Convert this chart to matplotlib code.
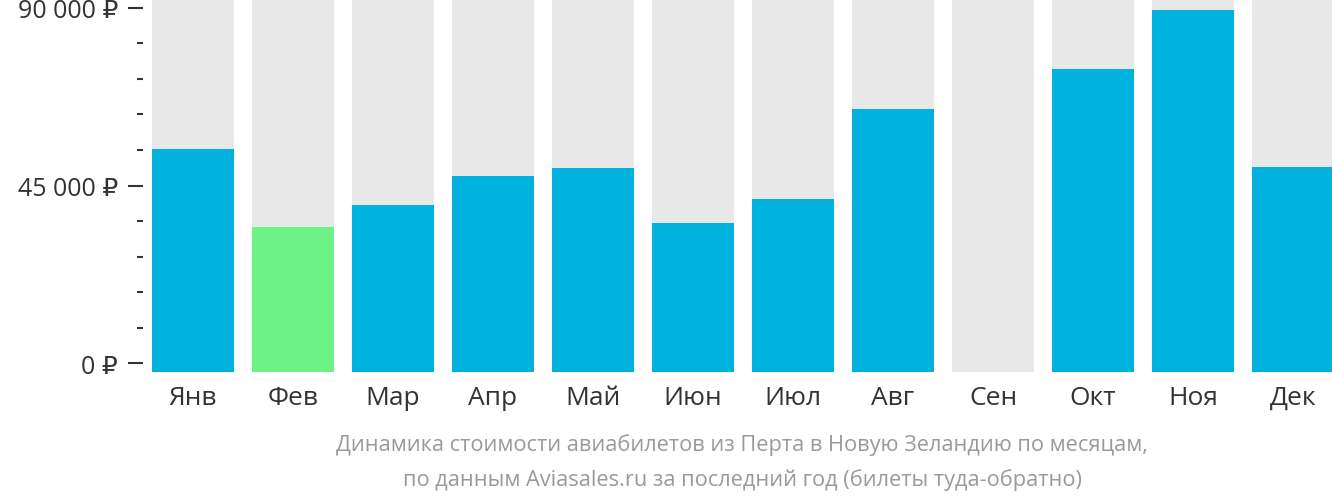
import numpy as np
from matplotlib import pyplot as plt
from matplotlib.ticker import MultipleLocator, FuncFormatter

plt.rcParams['font.family'] = ['Open Sans', 'DejaVu Sans']

# Monthly prices, rubles (0 = no data)
months = ['Янв', 'Фев', 'Мар', 'Апр', 'Май', 'Июн',
          'Июл', 'Авг', 'Сен', 'Окт', 'Ноя', 'Дек']
prices = [54250, 34520, 40090, 47420, 49440, 35530,
          41600, 64360, 0, 74480, 89400, 49700]
cheapest = 'Фев'

y_bottom = -2150
y_top = 92180

fig = plt.figure(figsize=(13.32, 5.02), dpi=100)
ax = fig.add_axes([143 / 1332, 129 / 502, 1189 / 1332, 373 / 502])

x = np.arange(len(months))
colors = ['#6cf287' if m == cheapest else '#00b1dd' for m in months]
p = np.array(prices)
heights = np.where(p > 0, p - y_bottom, 0)

# gray background columns, then the price bars on top
ax.bar(x, y_top - y_bottom, bottom=y_bottom, width=0.82, color='#e8e8e8')
ax.bar(x, heights, bottom=y_bottom, width=0.82, color=colors)

ax.set_xlim(-0.5, 11.39)
ax.set_ylim(y_bottom, y_top)

for s in ax.spines.values():
    s.set_visible(False)

ax.yaxis.set_major_locator(MultipleLocator(45000))
ax.yaxis.set_minor_locator(MultipleLocator(9000))
ax.yaxis.set_major_formatter(FuncFormatter(
    lambda v, pos: ('%d' % v if v < 1000 else '{:,}'.format(int(v)).replace(',', ' ')) + ' ₽'))
ax.tick_params(axis='y', which='major', length=11, width=1.5, color='#333333',
               labelsize=18, labelcolor='#333333', pad=7)
ax.tick_params(axis='y', which='minor', length=4.3, width=1.5, color='#333333')

ax.set_xticks(x)
ax.set_xticklabels(months)
ax.tick_params(axis='x', length=0, labelsize=19, labelcolor='#333333', pad=0)
for lbl in ax.get_xticklabels():
    lbl.set_va('baseline')
    lbl.set_y(-32 / 373)

cx = 742 / 1332
fig.text(cx, 1 - 445 / 502, 'Динамика стоимости авиабилетов из Перта в Новую Зеландию по месяцам,',
         ha='center', va='center', fontsize=15.7, color='#9a9a9a')
fig.text(cx, 1 - 480 / 502, 'по данным Aviasales.ru за последний год (билеты туда-обратно)',
         ha='center', va='center', fontsize=15.7, color='#9a9a9a')

fig.savefig('out.png', dpi=100)
